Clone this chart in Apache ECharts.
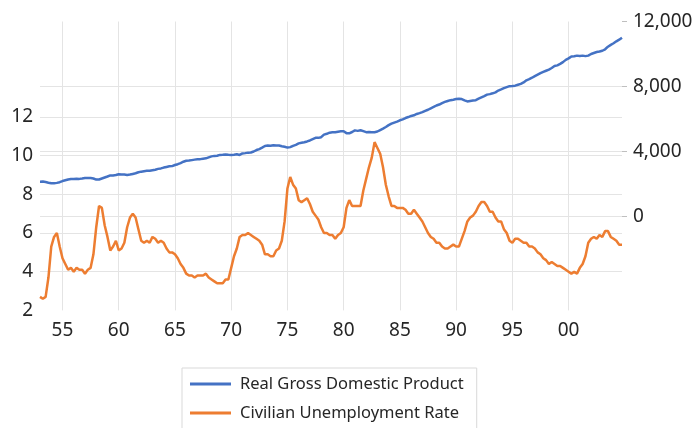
<!DOCTYPE html>
<html>
<head>
    <meta charset="utf-8"/>
    <script src="https://cdn.jsdelivr.net/npm/echarts@6/dist/echarts.min.js"></script>
</head>
<body style="margin:0;background:#fff">
<div id="main" style="width:699px;height:428px;"></div>
<script type="text/javascript">
    // quarterly data, 1953Q1 .. 2004Q4
    var startYear = 1953;
    var endYear = 2004;

    // Real GDP (right axis)
    var gdp50s = [2144, 2150, 2120, 2080, 2050, 2045, 2070, 2110, 2180, 2230, 2280, 2310,
        2310, 2320, 2315, 2340, 2370, 2365, 2375, 2340, 2270, 2280, 2340, 2400,
        2460, 2530, 2530, 2550];
    var gdp60s = [2600, 2590, 2590, 2560, 2580, 2620, 2660, 2720, 2760, 2790, 2810, 2820,
        2850, 2880, 2930, 2960, 3010, 3050, 3090, 3100, 3170, 3220, 3290, 3370,
        3430, 3440, 3470, 3500, 3520, 3530, 3560, 3580, 3640, 3700, 3730, 3740,
        3790, 3800, 3820, 3800];
    var gdp70s = [3790, 3800, 3830, 3790, 3880, 3900, 3930, 3940, 4000, 4090, 4150, 4240,
        4340, 4370, 4360, 4390, 4370, 4370, 4320, 4290, 4240, 4270, 4350, 4410,
        4500, 4540, 4570, 4620, 4680, 4760, 4840, 4840, 4880, 5040, 5090, 5160,
        5180, 5190, 5220, 5240];
    var gdp80s = [5250, 5130, 5120, 5200, 5300, 5270, 5310, 5250, 5190, 5200, 5180, 5190,
        5230, 5320, 5410, 5510, 5620, 5710, 5780, 5840, 5920, 5980, 6060, 6120,
        6190, 6230, 6310, 6360, 6420, 6500, 6570, 6660, 6740, 6830, 6890, 6980,
        7050, 7110, 7160, 7190];
    var gdp90s = [7230, 7250, 7230, 7150, 7080, 7110, 7140, 7160, 7250, 7330, 7410, 7500,
        7530, 7580, 7640, 7750, 7820, 7900, 7960, 8020, 8030, 8050, 8110, 8160,
        8250, 8380, 8450, 8540, 8640, 8730, 8820, 8900, 8970, 9040, 9140, 9260,
        9300, 9390, 9500, 9640];
    var gdp00s = [9730, 9850, 9860, 9900, 9880, 9900, 9870, 9900, 10000, 10060, 10120, 10150,
        10200, 10290, 10450, 10560, 10660, 10780, 10880, 11000];

    // Civilian unemployment rate (left axis)
    var unemp50s = [2.7, 2.6, 2.7, 3.7, 5.3, 5.8, 6.0, 5.3, 4.7, 4.4, 4.1, 4.2,
        4.0, 4.2, 4.1, 4.1, 3.9, 4.1, 4.2, 4.9, 6.3, 7.4, 7.3, 6.4,
        5.8, 5.1, 5.3, 5.6];
    var unemp60s = [5.1, 5.2, 5.5, 6.3, 6.8, 7.0, 6.8, 6.2, 5.6, 5.5, 5.6, 5.5,
        5.8, 5.7, 5.5, 5.6, 5.5, 5.2, 5.0, 5.0, 4.9, 4.7, 4.4, 4.2,
        3.9, 3.8, 3.8, 3.7, 3.8, 3.8, 3.8, 3.9, 3.7, 3.6, 3.5, 3.4,
        3.4, 3.4, 3.6, 3.6];
    var unemp70s = [4.2, 4.8, 5.2, 5.8, 5.9, 5.9, 6.0, 5.9, 5.8, 5.7, 5.6, 5.4,
        4.9, 4.9, 4.8, 4.8, 5.1, 5.2, 5.6, 6.6, 8.3, 8.9, 8.5, 8.3,
        7.7, 7.6, 7.7, 7.8, 7.5, 7.1, 6.9, 6.7, 6.3, 6.0, 6.0, 5.9,
        5.9, 5.7, 5.9, 6.0];
    var unemp80s = [6.3, 7.3, 7.7, 7.4, 7.4, 7.4, 7.4, 8.2, 8.8, 9.4, 9.9, 10.7,
        10.4, 10.1, 9.4, 8.5, 7.9, 7.4, 7.4, 7.3, 7.3, 7.3, 7.2, 7.0,
        7.0, 7.2, 7.0, 6.8, 6.6, 6.3, 6.0, 5.8, 5.7, 5.5, 5.5, 5.3,
        5.2, 5.2, 5.3, 5.4];
    var unemp90s = [5.3, 5.3, 5.7, 6.1, 6.6, 6.8, 6.9, 7.1, 7.4, 7.6, 7.6, 7.4,
        7.1, 7.1, 6.8, 6.6, 6.6, 6.2, 6.0, 5.6, 5.5, 5.7, 5.7, 5.6,
        5.5, 5.5, 5.3, 5.3, 5.2, 5.0, 4.9, 4.7, 4.6, 4.4, 4.5, 4.4,
        4.3, 4.3, 4.2, 4.1];
    var unemp00s = [4.0, 3.9, 4.0, 3.9, 4.2, 4.4, 4.8, 5.5, 5.7, 5.8, 5.7, 5.9,
        5.8, 6.1, 6.1, 5.8, 5.7, 5.6, 5.4, 5.4];

    var gdp = [].concat(gdp50s, gdp60s, gdp70s, gdp80s, gdp90s, gdp00s);
    var unemp = [].concat(unemp50s, unemp60s, unemp70s, unemp80s, unemp90s, unemp00s);

    var quarters = [];
    for (var y = startYear; y <= endYear; y++) {
        for (var q = 1; q <= 4; q++) {
            quarters.push(y + 'Q' + q);
        }
    }

    // a label / vertical grid line at the first quarter of every 5th year
    function isTick(idx, val) {
        return val.slice(-2) === 'Q1' && parseInt(val, 10) % 5 === 0;
    }

    var textColor = '#262626';
    var gridColor = '#e4e4e4';
    var font = 'Noto Sans';

    var myChart = echarts.init(document.getElementById('main'));

    var option = {
        animation: false,
        backgroundColor: '#fff',
        legend: {
            orient: 'vertical',
            left: 182,
            top: 368,
            height: 90,
            padding: [6, 13, 12, 8],
            itemGap: 9,
            itemWidth: 41,
            itemHeight: 3,
            borderColor: '#d9d9d9',
            borderWidth: 1,
            textStyle: {color: textColor, fontFamily: font, fontSize: 16.5, lineHeight: 20, padding: [0, 0, 0, 4]},
            data: [
                {name: 'Real Gross Domestic Product', icon: 'rect'},
                {name: 'Civilian Unemployment Rate', icon: 'rect'}
            ]
        },
        grid: [
            {left: 40, right: 77, top: 117, height: 193.4},
            {left: 40, right: 77, top: 21.5, height: 195}
        ],
        xAxis: [
            {
                type: 'category',
                gridIndex: 0,
                data: quarters,
                boundaryGap: false,
                axisLine: {show: false},
                axisTick: {show: false},
                axisLabel: {
                    interval: isTick,
                    margin: 11,
                    color: textColor,
                    fontFamily: font,
                    fontSize: 19,
                    formatter: function (val) {
                        return val.slice(2, 4);
                    }
                },
                splitLine: {show: true, interval: isTick, lineStyle: {color: gridColor, width: 1}}
            },
            {
                type: 'category',
                gridIndex: 1,
                data: quarters,
                boundaryGap: false,
                axisLine: {show: false},
                axisTick: {show: false},
                axisLabel: {show: false},
                splitLine: {show: true, interval: isTick, lineStyle: {color: gridColor, width: 1}}
            }
        ],
        yAxis: [
            {
                type: 'value',
                gridIndex: 0,
                position: 'left',
                min: 2,
                max: 12,
                interval: 2,
                axisLine: {show: false},
                axisTick: {show: false},
                axisLabel: {margin: 7, color: textColor, fontFamily: font, fontSize: 19},
                splitLine: {show: true, showMinLine: false, lineStyle: {color: gridColor, width: 1}}
            },
            {
                type: 'value',
                gridIndex: 1,
                position: 'right',
                min: 0,
                max: 12000,
                interval: 4000,
                axisLine: {show: false},
                axisTick: {show: true, length: 5, lineStyle: {color: '#bfbfbf'}},
                axisLabel: {
                    margin: 11,
                    color: textColor,
                    fontFamily: font,
                    fontSize: 19,
                    formatter: function (v) {
                        return v.toLocaleString('en-US');
                    }
                },
                splitLine: {show: true, showMaxLine: false, lineStyle: {color: gridColor, width: 1}}
            }
        ],
        series: [
            {
                name: 'Real Gross Domestic Product',
                type: 'line',
                xAxisIndex: 1,
                yAxisIndex: 1,
                data: gdp,
                showSymbol: false,
                color: '#4472c4',
                lineStyle: {width: 2.5, color: '#4472c4'}
            },
            {
                name: 'Civilian Unemployment Rate',
                type: 'line',
                xAxisIndex: 0,
                yAxisIndex: 0,
                data: unemp,
                showSymbol: false,
                color: '#ed7d31',
                lineStyle: {width: 2.5, color: '#ed7d31'}
            }
        ]
    };

    myChart.setOption(option);
</script>
</body>
</html>
